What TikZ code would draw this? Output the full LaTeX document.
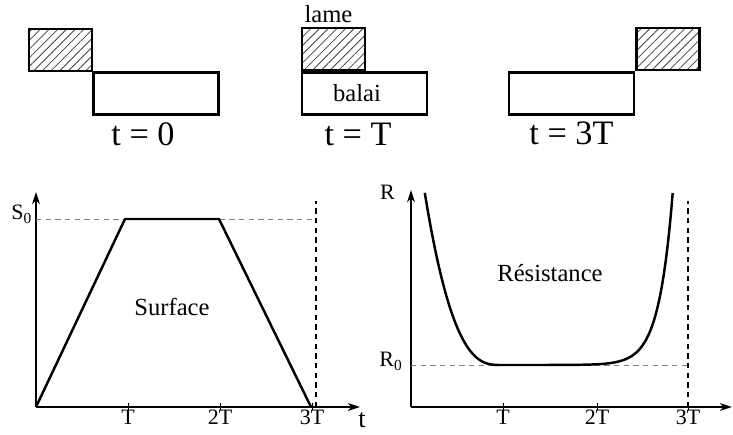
\documentclass[tikz,border=0pt]{standalone}
\usepackage{fontspec}
\setmainfont{Liberation Serif}
\usetikzlibrary{positioning,patterns.meta,arrows.meta}

\begin{document}
\begin{tikzpicture}[
    box/.style={draw, line width=1.4pt, inner sep=0pt, minimum height=0.84cm},
    balai box/.style={box, minimum width=2.5cm, font=\fontsize{14}{16}\selectfont},
    lame box/.style={box, minimum width=1.26cm, pattern={Lines[angle=45,distance=3.5pt,line width=0.45pt]}, pattern color=black!75},
    caption/.style={font=\fontsize{19.5}{22}\selectfont, inner sep=0pt, anchor=base},
    axis/.style={line width=0.8pt, -{Stealth[length=7pt,width=4.5pt]}},
    courbe/.style={line width=1.4pt, line join=round},
    repere/.style={gray, line width=0.5pt, dash pattern=on 3pt off 2.5pt},
    limite/.style={line width=0.8pt, dash pattern=on 3pt off 2.5pt},
    lbl/.style={font=\fontsize{12.5}{14}\selectfont, inner sep=0pt},
    titre/.style={font=\fontsize{14}{16}\selectfont},
  ]
  \useasboundingbox (0,0) rectangle (14.66,8.7);

  % Positions de la lame sur le balai
  \node[balai box] (balai1) at (3.12,6.83) {};
  \node[lame box, anchor=south east] (lame1) at (balai1.north west) {};
  \node[caption] (cap1) at ([xshift=-2.6mm, yshift=-6mm]balai1.south) {t = 0};

  \node[balai box] (balai2) at (7.29,6.83) {\hspace*{-3mm}balai};
  \node[lame box, anchor=south west] (lame2) at (balai2.north west) {};
  \node[lbl, font=\fontsize{14}{16}\selectfont, above=2pt of lame2, xshift=-1mm] (nomlame) {lame};
  \node[caption] (cap2) at ([xshift=-1.3mm, yshift=-6mm]balai2.south) {t = T};

  \node[balai box] (balai3) at (11.43,6.83) {};
  \node[lame box, anchor=south west] (lame3) at (balai3.north east) {};
  \node[caption] (cap3) at ([yshift=-5.8mm]balai3.south) {t = 3T};

  % Surface de contact
  \begin{scope}[shift={(0.72,0.56)}]
    \coordinate (O1) at (0,0);
    \coordinate (tx1) at (6.48,0);
    \coordinate (ty1) at (0,4.3);
    \draw[axis] (O1) -- (tx1);
    \draw[axis] (O1) -- (ty1);
    \foreach \x/\txt [count=\i] in {1.84/T, 3.68/2T, 5.52/3T} {
      \draw[line width=0.5pt] (\x,-0.07) -- (\x,0.07);
      \node[lbl, anchor=base] (ts\i) at (\x,-0.36) {\txt};
    }
    \node[lbl, anchor=base, font=\fontsize{15}{17}\selectfont] (t1) at (6.52,-0.42) {t};
    \coordinate (s0) at (0,3.76);
    \coordinate (s0d) at (5.6,3.76);
    \node[lbl, anchor=base east] (nomS) at (-0.07,3.74) {S\textsubscript{0}};
    \draw[repere] (s0) -- (s0d);
    \draw[limite] (5.6,0) -- (5.6,4.12);
    \draw[courbe] (O1) -- (1.78,3.76) -- (3.66,3.76) -- (5.5,0);
    \node[titre] (surf) at (2.72,2.0) {Surface};
  \end{scope}

  % Resistance de contact
  \begin{scope}[shift={(8.22,0.56)}]
    \coordinate (O2) at (0,0);
    \coordinate (tx2) at (6.42,0);
    \coordinate (ty2) at (0,4.34);
    \draw[axis] (O2) -- (tx2);
    \draw[axis] (O2) -- (ty2);
    \foreach \x/\txt [count=\i] in {1.84/T, 3.72/2T, 5.54/3T} {
      \draw[line width=0.5pt] (\x,-0.07) -- (\x,0.07);
      \node[lbl, anchor=base] (tr\i) at (\x,-0.36) {\txt};
    }
    \coordinate (r0) at (0,0.84);
    \coordinate (r0d) at (5.54,0.84);
    \node[lbl, anchor=base east] (nomR) at (-0.32,4.14) {R};
    \node[lbl, anchor=base east] (nomR0) at (-0.16,0.8) {R\textsubscript{0}};
    \draw[repere] (r0) -- (r0d);
    \draw[limite] (5.54,0) -- (5.54,4.12);
    \draw[courbe] plot[domain=0.276:1.77, samples=60, smooth]
      (\x, {0.84 + 1.144*(1.78-\x)^2.7 + 3.44*exp(3.6*(\x-5.234))})
      -- plot[domain=1.77:5.234, samples=100, smooth]
      (\x, {0.84 + 3.44*exp(3.6*(\x-5.234))});
    \node[titre] (resist) at (2.78,2.68) {Résistance};
  \end{scope}
\end{tikzpicture}
\end{document}
